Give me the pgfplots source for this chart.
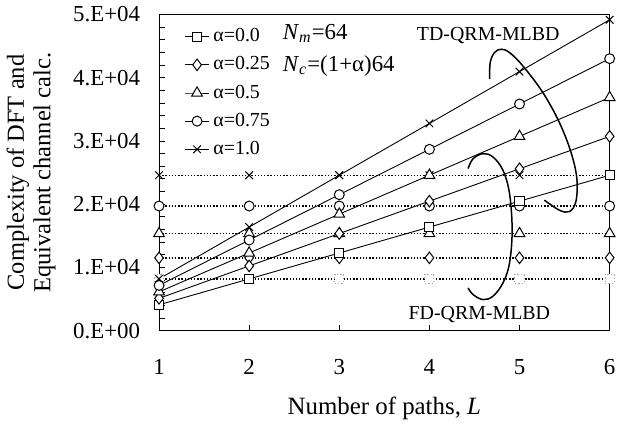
\documentclass[border=0pt]{standalone}
\usepackage{pgfplots}
\pgfplotsset{compat=1.18}
\usepackage{fontspec}
\setmainfont{Liberation Serif}
\begin{document}
\begin{tikzpicture}
\begin{axis}[
 width=226.5pt, height=159pt, scale only axis,
 xmin=1, xmax=6, ymin=0, ymax=50000,
 scaled y ticks=false,
 xtick={1,2,3,4,5,6},
 xticklabels={1,2,3,4,5,6},
 ytick={0,10000,20000,30000,40000,50000},
 yticklabels={0.E+00,1.E+04,2.E+04,3.E+04,4.E+04,5.E+04},
 minor y tick num=4,
 tick align=inside, xtick pos=bottom, ytick pos=left,
 major tick length=3pt, minor tick length=3pt,
 tick style={black, line width=0.4pt},
 ticklabel style={font=\fontsize{11.5}{13}\selectfont},
 yticklabel style={xshift=-6pt},
 xticklabel style={yshift=-11pt},
 xlabel={Number of paths, \textit{L}},
 ylabel={Complexity of DFT and\\Equivalent channel calc.},
 ylabel style={align=center, font=\fontsize{12.3}{13.3}\selectfont, yshift=2pt},
 xlabel style={font=\fontsize{12.5}{14}\selectfont, yshift=-4pt},
 axis line style={line width=0.5pt},
 legend style={draw=none, fill=none, at={(0.056,0.969)}, anchor=north west,
   font=\fontsize{10}{12}\selectfont, row sep=2pt, inner sep=0pt},
 legend cell align=left,
 legend image code/.code={\draw[mark repeat=2,mark phase=2,#1] plot coordinates {(0pt,0pt) (6pt,0pt) (12pt,0pt)};},
 every axis plot/.append style={line width=0.45pt},
]
% FD-QRM-MLBD (dotted, constant)
\addplot[forget plot, black, dash pattern=on 0.7pt off 0.9pt, line width=0.7pt, mark=square*, mark size=2.3pt, mark options={solid, fill=white, draw=gray!70, densely dotted, line width=0.5pt}]
 coordinates {(1,8192) (2,8192) (3,8192) (4,8192) (5,8192) (6,8192)};
\addplot[forget plot, black, dash pattern=on 0.7pt off 0.9pt, line width=0.7pt, mark=diamond*, mark size=2.9pt, mark options={solid, fill=white, line width=0.5pt}]
 coordinates {(1,11520) (2,11520) (3,11520) (4,11520) (5,11520) (6,11520)};
\addplot[forget plot, black, dash pattern=on 0.7pt off 0.9pt, line width=0.7pt, mark=triangle*, mark size=3.1pt, mark options={solid, fill=white, line width=0.5pt}]
 coordinates {(1,15360) (2,15360) (3,15360) (4,15360) (5,15360) (6,15360)};
\addplot[forget plot, black, dash pattern=on 0.7pt off 0.9pt, line width=0.7pt, mark=*, mark size=2.5pt, mark options={solid, fill=white, line width=0.5pt}]
 coordinates {(1,19712) (2,19712) (3,19712) (4,19712) (5,19712) (6,19712)};
\addplot[forget plot, black, dash pattern=on 0.7pt off 0.9pt, line width=0.7pt, mark=x, mark size=2.7pt, mark options={solid, line width=0.5pt}]
 coordinates {(1,24576) (2,24576) (3,24576) (4,24576) (5,24576) (6,24576)};
% TD-QRM-MLBD (solid, linear)
\addplot[black, mark=square*, mark size=2.3pt, mark options={fill=white, line width=0.5pt}]
 coordinates {(1,4096) (2,8192) (3,12288) (4,16384) (5,20480) (6,24576)};
\addlegendentry{α=0.0}
\addplot[black, mark=diamond*, mark size=2.9pt, mark options={fill=white, line width=0.5pt}]
 coordinates {(1,5120) (2,10240) (3,15360) (4,20480) (5,25600) (6,30720)};
\addlegendentry{α=0.25}
\addplot[black, mark=triangle*, mark size=3.1pt, mark options={fill=white, line width=0.5pt}]
 coordinates {(1,6144) (2,12288) (3,18432) (4,24576) (5,30720) (6,36864)};
\addlegendentry{α=0.5}
\addplot[black, mark=*, mark size=2.5pt, mark options={fill=white, line width=0.5pt}]
 coordinates {(1,7168) (2,14336) (3,21504) (4,28672) (5,35840) (6,43008)};
\addlegendentry{α=0.75}
\addplot[black, mark=x, mark size=2.7pt, mark options={line width=0.5pt}]
 coordinates {(1,8192) (2,16384) (3,24576) (4,32768) (5,40960) (6,49152)};
\addlegendentry{α=1.0}
% annotation ellipses
\addplot[forget plot, black, line width=0.75pt, smooth, tension=0.6, no marks] coordinates {
 (4.668,39780) (4.675,42405) (4.723,43978) (4.797,44497) (4.888,43978) (5.036,41871) (5.257,37689) (5.440,32972) (5.570,28255) (5.636,24057) (5.625,20393) (5.551,18821) (5.440,19072) (5.275,20645)};
\addplot[forget plot, black, line width=0.75pt, smooth, tension=0.6, no marks] coordinates {
 (4.429,25629) (4.485,27201) (4.595,27987) (4.705,27468) (4.816,25362) (4.889,21698) (4.918,15928) (4.889,10692) (4.816,7547) (4.705,5456) (4.595,4921) (4.485,5708) (4.429,6761)};
\node[anchor=base west, inner sep=0pt, font=\fontsize{11.5}{13}\selectfont] at (axis cs:2.37,46070) {\textit{N}\textsubscript{\textit{m}}=64};
\node[anchor=base west, inner sep=0pt, font=\fontsize{11.5}{13}\selectfont] at (axis cs:2.37,41040) {\textit{N}\textsubscript{\textit{c}}=(1+α)64};
\node[anchor=base, font=\fontsize{10}{12}\selectfont] at (axis cs:4.653,45900) {TD-QRM-MLBD};
\node[anchor=base, font=\fontsize{10}{12}\selectfont] at (axis cs:4.554,1730) {FD-QRM-MLBD};
\end{axis}
\end{tikzpicture}
\end{document}
